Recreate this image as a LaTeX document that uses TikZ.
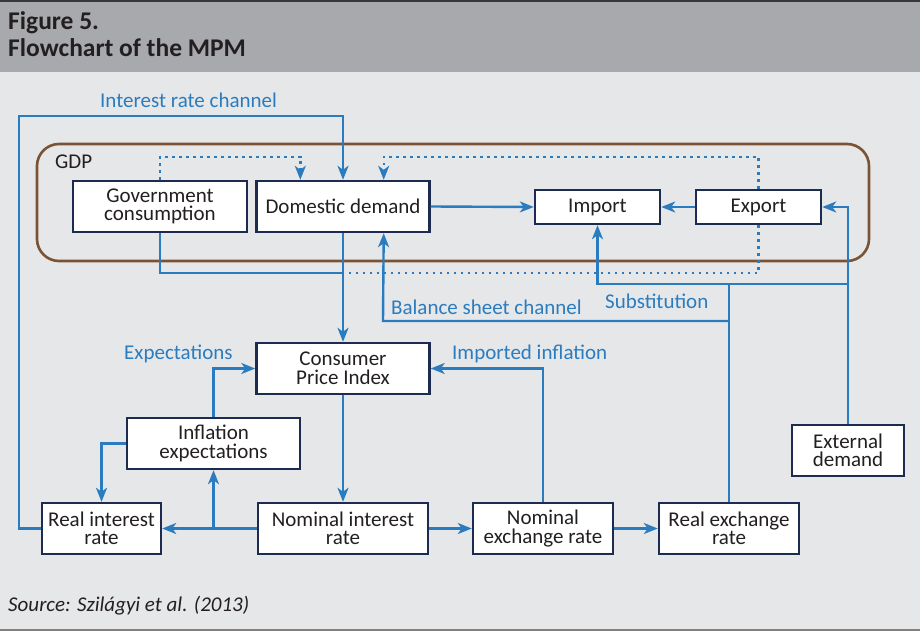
\documentclass[tikz,border=0pt]{standalone}
\usepackage{fontspec}
\setmainfont{Carlito}
\usetikzlibrary{arrows.meta}

\definecolor{hdrgray}{HTML}{A7A9AC}
\definecolor{pagebg}{HTML}{E6E7E9}
\definecolor{linkblue}{HTML}{2A7CBF}
\definecolor{boxnavy}{HTML}{1C2B4F}
\definecolor{gdpbrown}{HTML}{7B5234}
\definecolor{ink}{HTML}{231F20}

\newcommand{\mpmboxfont}{\fontsize{21}{18.5}\selectfont}
\newcommand{\mpmchanfont}{\fontsize{21}{24}\selectfont}

\tikzset{
  box/.style={draw=boxnavy, fill=white, line width=2.4pt, text=ink,
    align=center, font=\mpmboxfont, inner sep=0pt},
  link/.style={draw=linkblue, line width=2.4pt},
  linkarrow/.style={link, -{Stealth[length=14pt,width=11pt,inset=4pt]}},
  dotlink/.style={link, dash pattern=on 2.5pt off 4.5pt},
  chan/.style={text=linkblue, font=\mpmchanfont, inner sep=0pt, anchor=base west},
}

\begin{document}
\begin{tikzpicture}[x=1pt,y=-1pt]
  \useasboundingbox (0,0) rectangle (920,631);

  % page background, header band and rules
  \fill[pagebg] (0,0) rectangle (920,631);
  \fill[hdrgray] (0,0) rectangle (920,72);
  \fill[black!78] (0,0) rectangle (920,2.5);
  \fill[black!50] (0,628.5) rectangle (920,631);

  \node[anchor=base west, inner sep=0pt, text=ink, font=\fontsize{25.5}{28}\selectfont\bfseries]
    (fig) at (8,30) {Figure 5.};
  \node[anchor=base west, inner sep=0pt, text=ink, font=\fontsize{25.5}{28}\selectfont\bfseries]
    (title) at (8,57) {Flowchart of the MPM};

  % GDP frame
  \node[draw=gdpbrown, line width=2.6pt, rounded corners=22pt,
        minimum width=832pt, minimum height=117pt, inner sep=0pt] (gdp) at (453,202.5) {};
  \node[anchor=base west, inner sep=0pt, text=ink, font=\mpmchanfont] (gdplab) at (55,168) {GDP};

  % boxes
  \node[box, minimum width=174pt, minimum height=51pt] (gov) at (160,206.5) {Government\\consumption};
  \node[box, minimum width=173pt, minimum height=51pt] (dd)  at (343,206.5) {Domestic demand};
  \node[box, minimum width=125pt, minimum height=34pt] (imp) at (597.5,207) {Import};
  \node[box, minimum width=125pt, minimum height=34pt] (exp) at (758.5,207) {Export};
  \node[box, minimum width=173pt, minimum height=51pt] (cpi) at (343,368.5) {Consumer\\Price Index};
  \node[box, minimum width=173pt, minimum height=51pt] (infl) at (213.5,443.5) {Inflation\\expectations};
  \node[box, minimum width=119pt, minimum height=51pt] (rir) at (101.5,528.5) {Real interest\\rate};
  \node[box, minimum width=170pt, minimum height=51pt] (nir) at (343,528.5) {Nominal interest\\rate};
  \node[box, minimum width=140pt, minimum height=51pt] (ner) at (543,528.5) {Nominal\\exchange rate};
  \node[box, minimum width=140pt, minimum height=51pt] (rer) at (729,528.5) {Real exchange\\rate};
  \node[box, minimum width=112pt, minimum height=51pt] (ext) at (848,450.5) {External\\demand};

  % junction and entry points
  \coordinate (ddinL)  at ([xshift=45pt]dd.north west);
  \coordinate (ddinR)  at ([xshift=-47pt]dd.north east);
  \coordinate (ddbot)  at ([xshift=-47pt]dd.south east);
  \coordinate (gdpjoin) at (343,273);
  \coordinate (subst)  at (729,284);
  \coordinate (bsheet) at (383,321);

  % interest rate channel
  \draw[linkarrow] (rir.west) -| (19,116) -| (dd.north);
  \node[chan] (irc) at (100,108) {Interest rate channel};

  % dotted GDP links
  \draw[dotlink, -{Stealth[length=14pt,width=11pt,inset=4pt]}] (gov.north) -- ++(0,-23) -| (ddinL);
  \draw[dotlink, -{Stealth[length=14pt,width=11pt,inset=4pt]}] (exp.north) -- ++(0,-32) -| (ddinR);
  \draw[dotlink] (exp.south) |- (gdpjoin);
  \draw[link] (gov.south) |- (gdpjoin);

  % demand flows
  \draw[linkarrow] (dd.south) -- (cpi.north);
  \draw[linkarrow] (dd.east) -- (imp.west);
  \draw[linkarrow] (exp.west) -- (imp.east);

  % balance sheet channel and substitution
  \draw[link] (rer.north) -- (subst);
  \draw[linkarrow] (rer.north |- bsheet) -- (bsheet) -- (ddbot);
  \node[chan] (bsc) at (391,314) {Balance sheet channel};
  \draw[linkarrow] (subst) -| (imp.south);
  \node[chan] (sublab) at (605,308) {Substitution};

  % external demand
  \draw[linkarrow] (ext.north) |- (exp.east);
  \draw[link] (subst) -- (ext.north |- subst);

  % price and rate links
  \draw[linkarrow] (cpi.south) -- (nir.north);
  \draw[linkarrow] (nir.west) -- (rir.east);
  \draw[linkarrow] (infl.south |- nir.west) -- (infl.south);
  \draw[linkarrow] (infl.north) |- (cpi.west);
  \node[chan] (explab) at (124,359) {Expectations};
  \draw[linkarrow] (infl.west) -| (rir.north);
  \draw[linkarrow] (nir.east) -- (ner.west);
  \draw[linkarrow] (ner.north) |- (cpi.east);
  \node[chan] (implab) at (452,359) {Imported inflation};
  \draw[linkarrow] (ner.east) -- (rer.west);

  % source line
  \node[anchor=base west, inner sep=0pt, text=ink, font=\fontsize{21}{24}\selectfont\itshape]
    (src) at (8,611) {Source: Szilágyi et al. (2013)};
\end{tikzpicture}
\end{document}
